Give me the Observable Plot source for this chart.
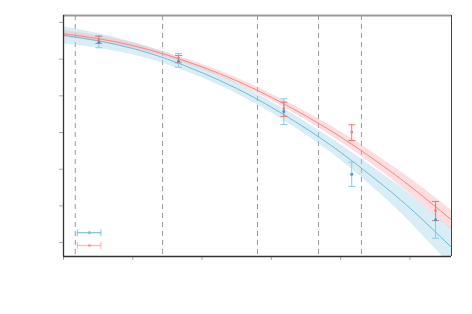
<!DOCTYPE html>
<html>
<head>
<meta charset="utf-8">
<script src="https://cdn.jsdelivr.net/npm/d3@7"></script>
<script src="https://cdn.jsdelivr.net/npm/@observablehq/plot@0.6"></script>
<style>
  html, body { margin: 0; padding: 0; background: #fff; }
  #chart svg { display: block; }
  #chart [aria-label="y-axis tick"], #chart [aria-label="x-axis tick"] { stroke: #aaa; }
</style>
</head>
<body>
<div id="chart"></div>
<script>
// Axis ticks (labels are blank in the reference)
const xTicks = [0, 1, 2, 3, 4, 5];
const yTicks = [0, 1, 2, 3, 4, 5, 6];

// Vertical dashed reference lines
const dashX = [0.17, 1.43, 2.80, 3.68, 4.30];

// Fitted curves sampled along x
const curveX   = [0, 0.5, 1, 1.5, 2, 2.5, 3, 3.5, 4, 4.5, 5, 5.6];
const blueFit  = [5.65, 5.50, 5.29, 5.00, 4.63, 4.20, 3.69, 3.11, 2.46, 1.73, 0.94, -0.13];
const blueLow  = [5.42, 5.30, 5.12, 4.85, 4.49, 4.06, 3.54, 2.94, 2.25, 1.45, 0.56, -0.65];
const blueHigh = [5.88, 5.70, 5.46, 5.15, 4.77, 4.34, 3.84, 3.28, 2.67, 2.01, 1.32, 0.39];
const redFit   = [5.69, 5.56, 5.37, 5.11, 4.79, 4.41, 3.96, 3.45, 2.88, 2.24, 1.54, 0.62];
const redLow   = [5.60, 5.48, 5.30, 5.04, 4.72, 4.33, 3.87, 3.34, 2.74, 2.07, 1.33, 0.36];
const redHigh  = [5.78, 5.64, 5.44, 5.18, 4.86, 4.49, 4.05, 3.56, 3.02, 2.41, 1.75, 0.88];

// Observed points with error bars
const ptX      = [0.51, 1.66, 3.18, 4.16, 5.37];
const blueMean = [5.46, 4.94, 3.57, 1.86, 0.62];
const blueLo   = [5.31, 4.78, 3.22, 1.53, 0.12];
const blueHi   = [5.62, 5.15, 3.92, 2.19, 1.12];
const redMean  = [5.52, 5.03, 3.65, 3.01, 0.87];
const redLo    = [5.43, 4.90, 3.44, 2.78, 0.60];
const redHi    = [5.63, 5.10, 3.83, 3.21, 1.12];

// Legend key glyphs (no labels in reference)
const legendSeries = ["series A", "series B"];
const legendY = [0.27, -0.08];
const legendX1 = 0.20, legendX2 = 0.54, legendXc = 0.375;

const BLUE_LINE = "#62b5d6", BLUE_BAND = "#a9d6ea", BLUE_ERR = "#86cbe3", BLUE_PT = "#3b9fc6";
const RED_LINE = "#f47e7e", RED_BAND = "#fbb4b4", RED_ERR = "#f47474", RED_PT = "#f07a7a";

const curve = curveX.map((x, i) => ({x, bf: blueFit[i], bl: blueLow[i], bh: blueHigh[i], rf: redFit[i], rl: redLow[i], rh: redHigh[i]}));
const pts = ptX.map((x, i) => ({x, bm: blueMean[i], bl: blueLo[i], bh: blueHi[i], rm: redMean[i], rl: redLo[i], rh: redHi[i]}));
const legend = legendSeries.map((s, i) => ({s, y: legendY[i], x1: legendX1, x2: legendX2, xc: legendXc}));

const hbar = {draw(ctx, size) { const r = Math.sqrt(size / Math.PI); ctx.moveTo(-r, 0); ctx.lineTo(r, 0); }};
const vbar = {draw(ctx, size) { const r = Math.sqrt(size / Math.PI); ctx.moveTo(0, -r); ctx.lineTo(0, r); }};

const legOp = d => d.s === "series B" ? 0.5 : 0.85;

const chart = Plot.plot({
  width: 472,
  height: 314,
  marginLeft: 63,
  marginRight: 21,
  marginTop: 15,
  marginBottom: 58,
  x: {domain: [0, 5.6], ticks: xTicks, tickFormat: () => "", tickSize: 4, label: null},
  y: {domain: [-0.38, 6.19], ticks: yTicks, tickFormat: () => "", tickSize: 4, label: null},
  color: {domain: legendSeries, range: ["#6fbfdc", "#f47474"]},
  marks: [
    Plot.ruleX(dashX, {stroke: "#999", strokeWidth: 1, strokeDasharray: "5,4"}),
    Plot.areaY(curve, {x: "x", y1: "bl", y2: "bh", fill: BLUE_BAND, fillOpacity: 0.45, curve: "natural", clip: true}),
    Plot.areaY(curve, {x: "x", y1: "rl", y2: "rh", fill: RED_BAND, fillOpacity: 0.45, curve: "natural", clip: true}),
    Plot.line(curve, {x: "x", y: "bf", stroke: BLUE_LINE, strokeWidth: 0.9, curve: "natural", clip: true}),
    Plot.line(curve, {x: "x", y: "rf", stroke: RED_LINE, strokeWidth: 0.9, curve: "natural", clip: true}),
    // blue error bars
    Plot.ruleX(pts, {x: "x", y1: "bl", y2: "bh", stroke: BLUE_ERR, strokeWidth: 1}),
    Plot.dot(pts, {x: "x", y: "bl", symbol: hbar, r: 3.5, stroke: BLUE_ERR, fill: "none", strokeWidth: 1}),
    Plot.dot(pts, {x: "x", y: "bh", symbol: hbar, r: 3.5, stroke: BLUE_ERR, fill: "none", strokeWidth: 1}),
    // red error bars
    Plot.ruleX(pts, {x: "x", y1: "rl", y2: "rh", stroke: RED_ERR, strokeWidth: 1}),
    Plot.dot(pts, {x: "x", y: "rl", symbol: hbar, r: 3.5, stroke: RED_ERR, fill: "none", strokeWidth: 1}),
    Plot.dot(pts, {x: "x", y: "rh", symbol: hbar, r: 3.5, stroke: RED_ERR, fill: "none", strokeWidth: 1}),
    Plot.dot(pts, {x: "x", y: "bm", r: 1.5, fill: BLUE_PT, stroke: "none"}),
    Plot.dot(pts, {x: "x", y: "rm", r: 1.3, fill: RED_PT, stroke: "none"}),
    // legend key glyphs
    Plot.link(legend, {x1: "x1", x2: "x2", y1: "y", y2: "y", stroke: "s", strokeWidth: 1.3, strokeOpacity: legOp}),
    Plot.dot(legend, {x: "x1", y: "y", symbol: vbar, r: 3.5, stroke: "s", fill: "none", strokeWidth: 1.1, strokeOpacity: legOp}),
    Plot.dot(legend, {x: "x2", y: "y", symbol: vbar, r: 3.5, stroke: "s", fill: "none", strokeWidth: 1.1, strokeOpacity: legOp}),
    Plot.dot(legend, {x: "xc", y: "y", r: 1.6, fill: "s", stroke: "none", fillOpacity: legOp}),
    // frame
    Plot.ruleY([6.19], {stroke: "#999", strokeWidth: 2}),
    Plot.ruleX([5.6], {stroke: "#444", strokeWidth: 1}),
    Plot.ruleX([0], {stroke: "#333", strokeWidth: 1.3}),
    Plot.ruleY([-0.38], {stroke: "#333", strokeWidth: 1.3})
  ]
});
document.getElementById("chart").appendChild(chart);
</script>
</body>
</html>
